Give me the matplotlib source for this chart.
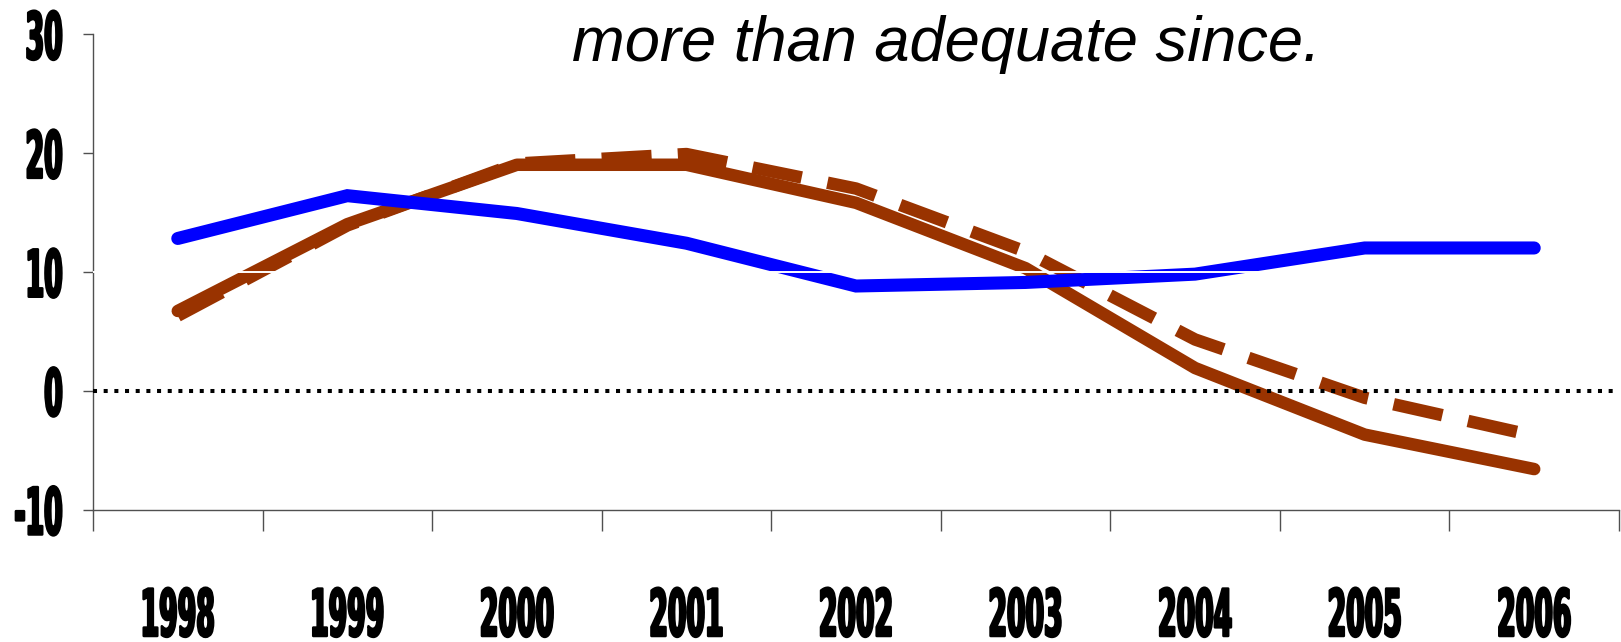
import matplotlib
matplotlib.use("Agg")
import matplotlib.pyplot as plt
from matplotlib.patheffects import AbstractPathEffect
from matplotlib.transforms import Affine2D, ScaledTranslation, blended_transform_factory

# ---- data ----
years = ['1998', '1999', '2000', '2001', '2002', '2003', '2004', '2005', '2006']
blue_series = [12.8, 16.4, 14.9, 12.4, 8.8, 9.1, 9.8, 12.0, 12.0]
brown_solid = [6.7, 14.0, 19.0, 19.0, 15.8, 10.3, 1.9, -3.7, -6.6]
brown_dashed = [6.3, 13.9, 19.1, 19.9, 17.0, 11.7, 4.3, -0.6, -3.8]
yticks = [-10, 0, 10, 20, 30]
ytick_labels = ['-10', '0', '10', '20', '30']
title_text = 'more than adequate since.'

BLUE = '#0000FF'
BROWN = '#993300'
SPINE = '#505050'


class TallBold(AbstractPathEffect):
    """Stretch glyphs vertically from the baseline and thicken them slightly
    (mimics the very tall condensed bold digits of the original)."""
    def __init__(self, sy, stroke_pt):
        super().__init__()
        self.sy = sy
        self.stroke_pt = stroke_pt

    def draw_path(self, renderer, gc, tpath, affine, rgbFace=None):
        gc0 = renderer.new_gc()
        gc0.copy_properties(gc)
        if rgbFace is not None:
            gc0.set_foreground(rgbFace)
        gc0.set_linewidth(self.stroke_pt)
        gc0.set_joinstyle('round')
        renderer.draw_path(gc0, tpath, Affine2D().scale(1.0, self.sy) + affine, rgbFace)
        gc0.restore()


W, H, DPI = 1621, 642, 100
fig = plt.figure(figsize=(W / DPI, H / DPI), dpi=DPI)
ax = fig.add_axes([93 / W, (H - 509.5) / H, 1526 / W, 475.5 / H])

x = [i + 0.5 for i in range(len(years))]

ax.plot(x, brown_dashed, color=BROWN, lw=9, linestyle=(0, (4, 2.1)),
        dash_capstyle='butt', zorder=3)
ax.plot(x, brown_solid, color=BROWN, lw=9, solid_capstyle='round',
        solid_joinstyle='round', zorder=3)
ax.plot(x, blue_series, color=BLUE, lw=9.4, solid_capstyle='round',
        solid_joinstyle='miter', zorder=4)

ax.axhline(10, color='white', lw=1.4, zorder=5)
ax.axhline(0, color='black', lw=2.9, linestyle=(0, (1, 1.65)),
           dash_capstyle='butt', zorder=6)

ax.set_xlim(0, len(years))
ax.set_ylim(-10, 30)
ax.set_xticks(range(len(years) + 1))
ax.set_yticks(yticks)
ax.tick_params(axis='x', direction='out', length=15, width=1, color=SPINE,
               labelbottom=False)
ax.tick_params(axis='y', direction='out', length=7.2, width=1, color=SPINE,
               labelleft=False)
for s in ['top', 'right']:
    ax.spines[s].set_visible(False)
for s in ['left', 'bottom']:
    ax.spines[s].set_color(SPINE)
    ax.spines[s].set_linewidth(1)

label_font = dict(family='DejaVu Sans', weight='bold', size=19.2)
tall = [TallBold(2.44, 1.8)]

# y labels (baseline 26 px below the tick, glyphs grow upward)
ytrans = ax.get_yaxis_transform() + ScaledTranslation(0, -25 / DPI, fig.dpi_scale_trans)
for v, lab in zip(yticks, ytick_labels):
    ax.text((62.7 - 93) / 1526, v, lab, transform=ytrans, ha='right',
            va='baseline', path_effects=tall, clip_on=False, **label_font)

# x labels
xtrans = blended_transform_factory(ax.transData, fig.transFigure)
for xi, lab in zip(x, years):
    ax.text(xi, (H - 636) / H, lab, transform=xtrans, ha='center',
            va='baseline', path_effects=tall, clip_on=False, **label_font)

fig.text(572 / W, (H - 61) / H, title_text, ha='left', va='baseline',
         family=['Liberation Sans', 'DejaVu Sans'], style='italic', size=45.5)

fig.savefig('out.png', dpi=DPI)
